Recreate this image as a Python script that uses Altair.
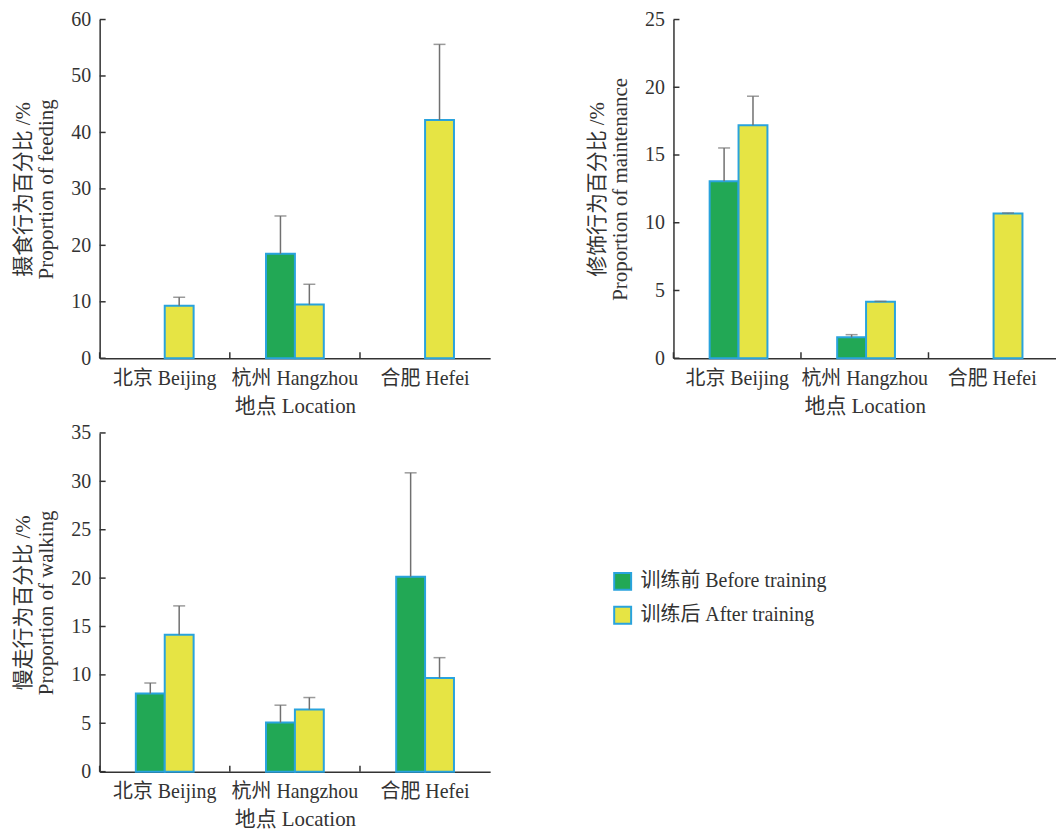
import altair as alt
import pandas as pd

FONT = "Liberation Serif, Noto Sans CJK SC"
locs = ["北京 Beijing", "杭州 Hangzhou", "合肥 Hefei"]
groups = ["训练前 Before training", "训练后 After training"]

feed_before = [None, 18.5, None]
feed_before_err = [None, 6.7, None]
feed_after = [9.3, 9.5, 42.2]
feed_after_err = [1.5, 3.6, 13.4]
feed_ticks = [0, 10, 20, 30, 40, 50, 60]

main_before = [13.07, 1.54, None]
main_before_err = [2.45, 0.2, None]
main_after = [17.2, 4.17, 10.69]
main_after_err = [2.14, 0.03, 0.03]
main_ticks = [0, 5, 10, 15, 20, 25]

walk_before = [8.07, 5.08, 20.15]
walk_before_err = [1.09, 1.79, 10.73]
walk_after = [14.14, 6.42, 9.68]
walk_after_err = [2.99, 1.24, 2.1]
walk_ticks = [0, 5, 10, 15, 20, 25, 30, 35]

GREEN = "#22A855"
YELLOW = "#E6E444"
BLUE = "#29A3DD"
GRAY = "#707070"
AXIS = "#333333"
H = 340
BARW = 29


def panel(title, before, before_err, after, after_err, ticks, W):
    band = W / 3
    rows = []
    for i, loc in enumerate(locs):
        for g, v, e in ((groups[0], before[i], before_err[i]), (groups[1], after[i], after_err[i])):
            if v is not None:
                rows.append({"loc": loc, "group": g, "value": v, "top": v + e})
    df = pd.DataFrame(rows)
    x = alt.X("loc:N", sort=locs, scale=alt.Scale(domain=locs, paddingInner=0, paddingOuter=0),
              axis=alt.Axis(title="地点 Location", tickSize=0, labelAngle=0, labelPadding=10,
                            domainColor=AXIS, domainWidth=1.5, labelFontSize=20, titleFontSize=21,
                            labelColor=AXIS, titleColor=AXIS, titleFontWeight="normal", titlePadding=7,
                            labelFont=FONT, titleFont=FONT))
    xo = alt.XOffset("group:N", sort=groups,
                     scale=alt.Scale(domain=groups, range=[band / 2 - BARW, band / 2 + BARW]))
    y = alt.Y("value:Q", scale=alt.Scale(domain=[ticks[0], ticks[-1]], nice=False),
              axis=alt.Axis(title=title, values=ticks, tickSize=0, grid=False, labelPadding=9,
                            domainColor=AXIS, domainWidth=1.5, labelFontSize=20, titleFontSize=21,
                            labelColor=AXIS, titleColor=AXIS, titleFontWeight="normal",
                            titleLineHeight=23, titlePadding=14, labelFont=FONT, titleFont=FONT))
    color = alt.Color("group:N", sort=groups,
                      scale=alt.Scale(domain=groups, range=[GREEN, YELLOW]),
                      legend=alt.Legend(title=None, orient="none", legendX=515, legendY=554,
                                        symbolType="square", symbolSize=289, symbolStrokeColor=BLUE,
                                        symbolStrokeWidth=2, labelFontSize=20, labelFont=FONT,
                                        labelColor=AXIS, rowPadding=8, labelOffset=8, labelLimit=400))
    bars = alt.Chart(df).mark_bar(stroke=BLUE, strokeWidth=2).encode(x=x, xOffset=xo, y=y, color=color)
    errs = alt.Chart(df).mark_rule(color=GRAY, strokeWidth=1.5).encode(
        x=alt.X("loc:N", sort=locs), xOffset=alt.XOffset("group:N", sort=groups),
        y="value:Q", y2="top:Q")
    caps = alt.Chart(df).mark_tick(orient="horizontal", size=12, thickness=1.5, color=GRAY).encode(
        x=alt.X("loc:N", sort=locs), xOffset=alt.XOffset("group:N", sort=groups), y="top:Q")
    xt = alt.Chart(pd.DataFrame({"loc": locs})).mark_rule(color=AXIS, strokeWidth=1.5).encode(
        x=alt.X("loc:N", sort=locs, bandPosition=0), y=alt.value(H), y2=alt.value(H - 6))
    yt = alt.Chart(pd.DataFrame({"t": ticks})).mark_rule(color=AXIS, strokeWidth=1.5).encode(
        y="t:Q", x=alt.value(0), x2=alt.value(6))
    return alt.layer(bars, errs, caps, xt, yt).properties(width=W, height=H)


p1 = panel(["摄食行为百分比 /%", "Proportion of feeding"], feed_before, feed_before_err,
           feed_after, feed_after_err, feed_ticks, 392)
p2 = panel(["修饰行为百分比 /%", "Proportion of maintenance"], main_before, main_before_err,
           main_after, main_after_err, main_ticks, 384)
p3 = panel(["慢走行为百分比 /%", "Proportion of walking"], walk_before, walk_before_err,
           walk_after, walk_after_err, walk_ticks, 392)

chart = alt.vconcat(alt.hconcat(p1, p2, spacing=97), p3, spacing=7).properties(
    padding={"top": 0, "left": 5, "right": 0, "bottom": 0}
).configure(font=FONT).configure_view(strokeWidth=0, stroke="transparent")
chart.save("out.html", embed_options={"renderer": "svg", "actions": False})
